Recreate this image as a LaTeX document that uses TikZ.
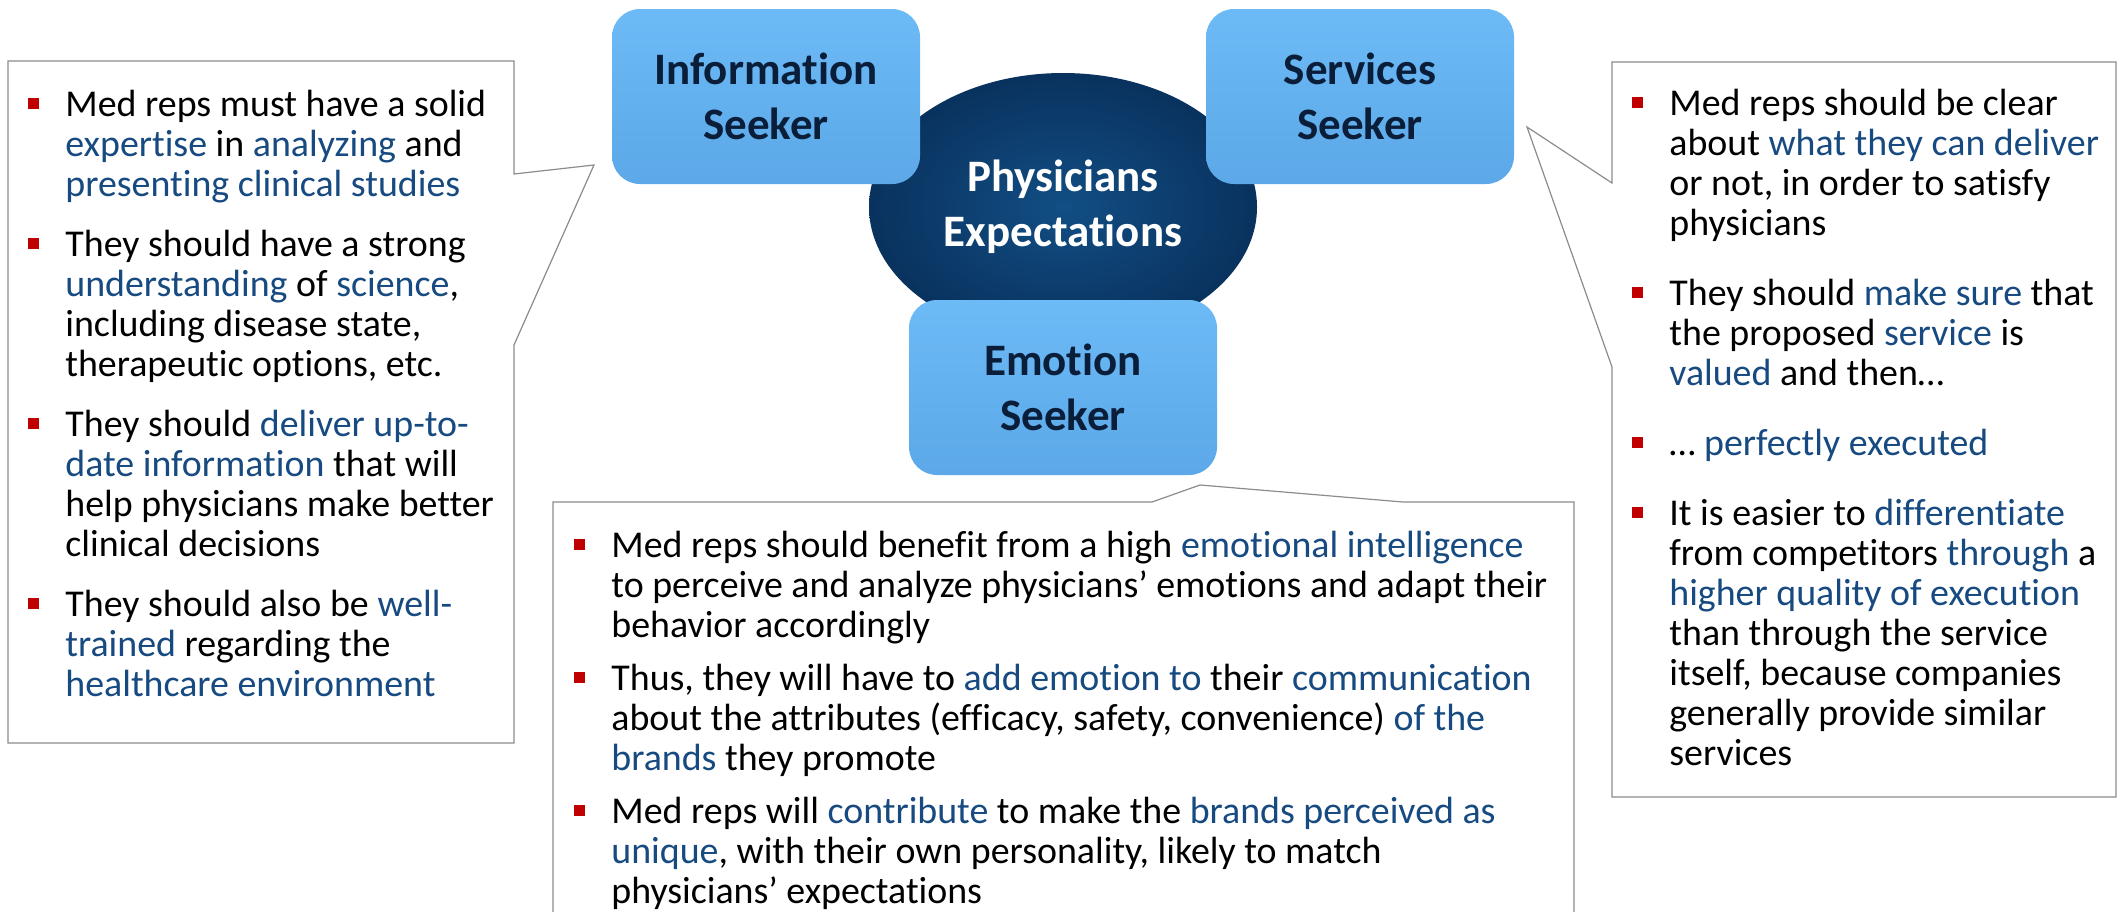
\documentclass[tikz,border=0pt]{standalone}
\usepackage{fontspec}
\setmainfont{Carlito}[Ligatures=NoCommon]
\usetikzlibrary{shapes.geometric}
\definecolor{hlblue}{RGB}{22,74,128}
\definecolor{bulred}{RGB}{192,0,0}
\definecolor{edgegray}{RGB}{140,140,140}
\definecolor{boxtop}{RGB}{108,186,246}
\definecolor{boxbot}{RGB}{92,168,232}
\definecolor{boxtxt}{RGB}{10,30,58}
\definecolor{navyin}{RGB}{18,78,132}
\definecolor{navyout}{RGB}{9,50,94}
\newcommand\hb[1]{\textcolor{hlblue}{#1}}
\newcommand\bul{\par\noindent\hspace*{-18.5pt}\makebox[18.5pt][l]{\raisebox{3.5pt}{\textcolor{bulred}{\rule{5.5pt}{5.5pt}}}}\ignorespaces}
\newcommand\bodyfont{\fontsize{18.95pt}{20pt}\selectfont\lineskiplimit=-20pt\leftskip=18.5pt\parindent=0pt}
\tikzset{
  callout/.style={draw=edgegray, line width=0.6pt, fill=white},
  seekbox/.style={rounded corners=14pt, minimum width=154pt, minimum height=87.5pt, inner sep=0pt,
    top color=boxtop, bottom color=boxbot, text=boxtxt,
    font=\fontsize{22.5pt}{27.5pt}\selectfont\bfseries, align=center},
  bodytext/.style={anchor=base west, inner sep=0pt}
}
\begin{document}
\begin{tikzpicture}[x=0.5pt,y=-0.5pt]
\useasboundingbox (0,0) rectangle (2121,911);
% callouts
\coordinate (ltip) at (594,165);
\coordinate (rtip) at (1527,127);
\coordinate (btip) at (1200,485);
\draw[callout] (8,61) -- (514,61) -- (514,174) -- (ltip) -- (514,345) -- (514,743) -- (8,743) -- cycle;
\draw[callout] (1612,62) -- (2116,62) -- (2116,797) -- (1612,797) -- (1612,367) -- (rtip) -- (1612,183) -- cycle;
\draw[callout] (553,502) -- (1152,502) -- (btip) -- (1403,502) -- (1574,502) -- (1574,918) -- (553,918) -- cycle;
% center
\node[ellipse, minimum width=194pt, minimum height=134pt, inner sep=0pt, inner color=navyin, outer color=navyout,
  text=white, font=\fontsize{22.5pt}{27.5pt}\selectfont\bfseries, align=center] (pe) at (1063,207) {Physicians\\Expectations};
\node[seekbox] (info) at (766,96.5) {Information\\Seeker};
\node[seekbox] (serv) at (1360,96.5) {Services\\Seeker};
\node[seekbox] (emo) at (1063,387.5) {Emotion\\Seeker};
% texts
\node[bodytext] (ltxt) at (28,116) {\parbox[t]{260pt}{\bodyfont\parskip=10pt
\bul Med reps must have a solid\\ \hb{expertise} in \hb{analyzing} and\\ \hb{presenting clinical studies}
\bul They should have a strong\\ \hb{understanding} of \hb{science},\\ including disease state,\\ therapeutic options, etc.
\bul They should \hb{deliver up-to-}\\ \hb{date information} that will\\ help physicians make better\\ clinical decisions
\bul They should also be \hb{well-}\\ \hb{trained} regarding the\\ \hb{healthcare environment}}};
\node[bodytext] (btxt) at (574,557) {\parbox[t]{500pt}{\bodyfont\parskip=6.5pt
\bul Med reps should benefit from a high \hb{emotional intelligence}\\ to perceive and analyze physicians’ emotions and adapt their\\ behavior accordingly
\bul Thus, they will have to \hb{add emotion to} their \hb{communication}\\ about the attributes (efficacy, safety, convenience) \hb{of the}\\ \hb{brands} they promote
\bul Med reps will \hb{contribute} to make the \hb{brands perceived as}\\ \hb{unique}, with their own personality, likely to match\\ physicians’ expectations}};
\node[bodytext] (rtxt) at (1632,115) {\parbox[t]{260pt}{\bodyfont\parskip=15pt
\bul Med reps should be clear\\ about \hb{what they can deliver}\\ or not, in order to satisfy\\ physicians
\bul They should \hb{make sure} that\\ the proposed \hb{service} is\\ \hb{valued} and then…
\bul … \hb{perfectly executed}
\bul It is easier to \hb{differentiate}\\ from competitors \hb{through} a\\ \hb{higher quality of execution}\\ than through the service\\ itself, because companies\\ generally provide similar\\ services}};
\end{tikzpicture}
\end{document}
